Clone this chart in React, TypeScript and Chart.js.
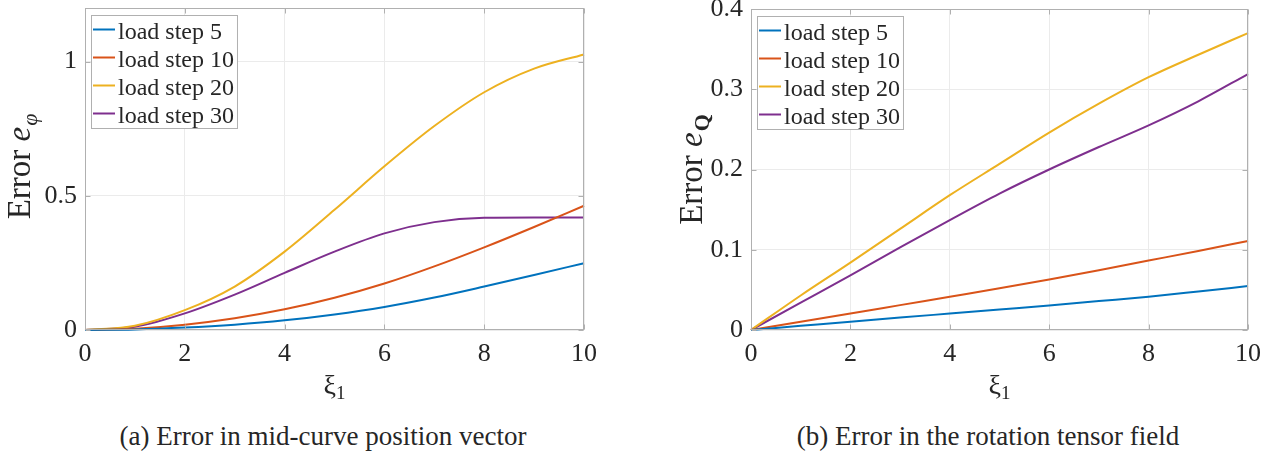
import React, { useEffect, useRef } from 'react';
import { Chart, registerables } from 'chart.js';

Chart.register(...registerables);

// ---------- data ----------
const XI = [0, 1, 2, 3, 4, 5, 6, 7, 8, 9, 10];
const SERIES_LABELS = ['load step 5', 'load step 10', 'load step 20', 'load step 30'];

// (a) error in mid-curve position vector
const POS_STEP5 = [0, 0.002, 0.009, 0.02, 0.036, 0.058, 0.086, 0.121, 0.162, 0.205, 0.249];
const POS_STEP10 = [0, 0.005, 0.02, 0.044, 0.077, 0.12, 0.173, 0.237, 0.308, 0.384, 0.463];
const POS_STEP20 = [0, 0.016, 0.074, 0.162, 0.292, 0.448, 0.61, 0.76, 0.886, 0.974, 1.027];
const POS_STEP30 = [0, 0.012, 0.062, 0.132, 0.213, 0.292, 0.36, 0.402, 0.418, 0.419, 0.419];

// (b) error in the rotation tensor field
const ROT_STEP5 = [0, 0.0052, 0.0104, 0.0155, 0.0205, 0.0255, 0.0305, 0.036, 0.0415, 0.048, 0.0547];
const ROT_STEP10 = [0, 0.0102, 0.0205, 0.031, 0.0415, 0.052, 0.063, 0.0745, 0.0865, 0.0985, 0.111];
const ROT_STEP20 = [0, 0.043, 0.084, 0.126, 0.168, 0.207, 0.246, 0.282, 0.315, 0.343, 0.37];
const ROT_STEP30 = [0, 0.034, 0.068, 0.103, 0.137, 0.17, 0.2, 0.228, 0.255, 0.285, 0.319];

const X_TICKS = [0, 2, 4, 6, 8, 10];
const POS_Y_TICKS = [0, 0.5, 1];
const ROT_Y_TICKS = [0, 0.1, 0.2, 0.3, 0.4];

const CAPTION_A = '(a) Error in mid-curve position vector';
const CAPTION_B = '(b) Error in the rotation tensor field';

// ---------- style ----------
const SERIF = "'Liberation Serif', 'Times New Roman', Times, serif";
const LINE_COLORS = ['#0072BD', '#D95319', '#EDB120', '#7E2F8E'];
const TEXT_COLOR = '#262626';
const BOX_COLOR = '#b0b0b0';
const GRID_COLOR = '#ebebeb';
const CANVAS_H = 410;

type PanelSpec = {
  series: number[][];
  yTicks: number[];
  yMax: number;
  yAxisWidth: number;
  padTop: number;
  padRight: number;
  titleBaseX: number;
  titleCenterY: number;
  sub: string;
  subBold: boolean;
};

function decorPlugin(spec: PanelSpec) {
  return {
    id: 'decor',
    afterDraw(chart: any) {
      const ctx = chart.ctx as CanvasRenderingContext2D;
      const a = chart.chartArea;
      const xs = chart.scales.x;
      const ys = chart.scales.y;
      ctx.save();
      // axes box
      const L = Math.round(a.left) + 0.5;
      const R = Math.round(a.right) - 0.5;
      const T = Math.round(a.top) + 0.5;
      const B = Math.round(a.bottom) - 0.5;
      ctx.strokeStyle = BOX_COLOR;
      ctx.lineWidth = 1;
      ctx.strokeRect(L, T, R - L, B - T);
      // inward tick marks
      ctx.beginPath();
      xs.ticks.forEach((t: any) => {
        const px = Math.round(xs.getPixelForValue(t.value)) + 0.5;
        ctx.moveTo(px, B); ctx.lineTo(px, B - 5);
        ctx.moveTo(px, T); ctx.lineTo(px, T + 5);
      });
      ys.ticks.forEach((t: any) => {
        const py = Math.round(ys.getPixelForValue(t.value)) + 0.5;
        ctx.moveTo(L, py); ctx.lineTo(L + 5, py);
        ctx.moveTo(R, py); ctx.lineTo(R - 5, py);
      });
      ctx.stroke();

      // legend
      const datasets = chart.data.datasets;
      ctx.font = `24px ${SERIF}`;
      const widths = datasets.map((d: any) => ctx.measureText(d.label).width);
      const bx = Math.round(a.left) + 6;
      const by = Math.round(a.top) + 7;
      const bw = 27 + Math.max(...widths) + 3;
      const bh = 113;
      ctx.fillStyle = '#ffffff';
      ctx.fillRect(bx, by, bw, bh);
      ctx.strokeStyle = BOX_COLOR;
      ctx.strokeRect(bx + 0.5, by + 0.5, bw, bh);
      datasets.forEach((d: any, i: number) => {
        const cy = by + 14.5 + 28 * i;
        ctx.strokeStyle = d.borderColor;
        ctx.lineWidth = 2;
        ctx.beginPath();
        ctx.moveTo(bx + 2, cy);
        ctx.lineTo(bx + 24, cy);
        ctx.stroke();
        ctx.fillStyle = TEXT_COLOR;
        ctx.textBaseline = 'alphabetic';
        ctx.textAlign = 'left';
        ctx.fillText(d.label, bx + 27, cy + 9);
      });

      // y-axis title: Error e_sub
      ctx.translate(spec.titleBaseX, spec.titleCenterY);
      ctx.rotate(-Math.PI / 2);
      ctx.fillStyle = TEXT_COLOR;
      ctx.textBaseline = 'alphabetic';
      ctx.textAlign = 'left';
      const f1 = `33px ${SERIF}`;
      const f2 = `italic 33px ${SERIF}`;
      const f3 = spec.subBold ? `bold 22px ${SERIF}` : `italic 22px ${SERIF}`;
      ctx.font = f1; const w1 = ctx.measureText('Error ').width;
      ctx.font = f2; const w2 = ctx.measureText('e').width;
      ctx.font = f3; const w3 = ctx.measureText(spec.sub).width;
      let x0 = -(w1 + w2 + w3) / 2;
      ctx.font = f1; ctx.fillText('Error ', x0, 0); x0 += w1;
      ctx.font = f2; ctx.fillText('e', x0, 0); x0 += w2 + 1;
      ctx.font = f3; ctx.fillText(spec.sub, x0, 7);
      ctx.setTransform(1, 0, 0, 1, 0, 0);
      ctx.restore();

      // x-axis title: xi_1
      ctx.save();
      ctx.fillStyle = TEXT_COLOR;
      ctx.textBaseline = 'alphabetic';
      ctx.textAlign = 'left';
      const cx = (a.left + a.right) / 2;
      ctx.font = `28px ${SERIF}`; const wx = ctx.measureText('ξ').width;
      ctx.font = `19px ${SERIF}`; const w1x = ctx.measureText('1').width;
      const sx = cx - (wx + w1x) / 2;
      ctx.font = `28px ${SERIF}`; ctx.fillText('ξ', sx, 394);
      ctx.font = `19px ${SERIF}`; ctx.fillText('1', sx + wx, 399);
      ctx.restore();
    },
  };
}

const zeroPad = (s: any) => {
  s.paddingTop = 0;
  s.paddingBottom = 0;
  s.paddingLeft = 0;
  s.paddingRight = 0;
};

function makeConfig(spec: PanelSpec): any {
  return {
    type: 'line',
    data: {
      datasets: spec.series.map((vals, i) => ({
        label: SERIES_LABELS[i],
        data: XI.map((x, j) => ({ x, y: vals[j] })),
        borderColor: LINE_COLORS[i],
        backgroundColor: LINE_COLORS[i],
        borderWidth: 2,
        pointRadius: 0,
        cubicInterpolationMode: 'monotone',
        clip: false,
      })),
    },
    options: {
      animation: false,
      responsive: true,
      maintainAspectRatio: false,
      layout: { padding: { top: spec.padTop, right: spec.padRight, bottom: 0, left: 0 } },
      plugins: { legend: { display: false }, tooltip: { enabled: false } },
      scales: {
        x: {
          type: 'linear',
          min: 0,
          max: 10,
          afterBuildTicks: (s: any) => { s.ticks = X_TICKS.map((v) => ({ value: v })); },
          afterFit: (s: any) => { s.height = CANVAS_H - 330; zeroPad(s); },
          grid: { color: GRID_COLOR, drawTicks: false },
          border: { display: false },
          ticks: {
            padding: 9,
            color: TEXT_COLOR,
            font: { family: SERIF, size: 26 },
            maxRotation: 0,
            callback: (v: any) => String(v),
          },
        },
        y: {
          type: 'linear',
          min: 0,
          max: spec.yMax,
          afterBuildTicks: (s: any) => { s.ticks = spec.yTicks.map((v) => ({ value: v })); },
          afterFit: (s: any) => { s.width = spec.yAxisWidth; zeroPad(s); },
          grid: { color: GRID_COLOR, drawTicks: false },
          border: { display: false },
          ticks: {
            padding: 8,
            color: TEXT_COLOR,
            font: { family: SERIF, size: 26 },
            callback: (v: any) => String(v),
          },
        },
      },
    },
    plugins: [decorPlugin(spec)],
  };
}

function Panel({ spec, left, width }: { spec: PanelSpec; left: number; width: number }) {
  const ref = useRef<HTMLCanvasElement>(null);
  useEffect(() => {
    const chart = new Chart(ref.current as HTMLCanvasElement, makeConfig(spec));
    return () => chart.destroy();
  }, []);
  return (
    <div style={{ position: 'absolute', left, top: 0, width, height: CANVAS_H }}>
      <canvas ref={ref} />
    </div>
  );
}

const SPEC_A: PanelSpec = {
  series: [POS_STEP5, POS_STEP10, POS_STEP20, POS_STEP30],
  yTicks: POS_Y_TICKS,
  yMax: 1.2,
  yAxisWidth: 85,
  padTop: 8,
  padRight: 636 - 584,
  titleBaseX: 30,
  titleCenterY: 167,
  sub: 'φ',
  subBold: false,
};

const SPEC_B: PanelSpec = {
  series: [ROT_STEP5, ROT_STEP10, ROT_STEP20, ROT_STEP30],
  yTicks: ROT_Y_TICKS,
  yMax: 0.4,
  yAxisWidth: 751 - 636,
  padTop: 9,
  padRight: 1272 - 1248,
  titleBaseX: 702 - 636,
  titleCenterY: 170,
  sub: 'Q',
  subBold: true,
};

const captionStyle = (center: number): React.CSSProperties => ({
  position: 'absolute',
  left: center - 320,
  width: 640,
  top: 423,
  textAlign: 'center',
  fontFamily: SERIF,
  fontSize: 27,
  lineHeight: '27px',
  color: TEXT_COLOR,
  whiteSpace: 'nowrap',
});

export default function App() {
  return (
    <div style={{ position: 'fixed', left: 0, top: 0, width: 1272, height: 451, background: '#ffffff', overflow: 'hidden' }}>
      <Panel spec={SPEC_A} left={0} width={636} />
      <Panel spec={SPEC_B} left={636} width={636} />
      <div style={captionStyle(323)}>{CAPTION_A}</div>
      <div style={captionStyle(988)}>{CAPTION_B}</div>
    </div>
  );
}
